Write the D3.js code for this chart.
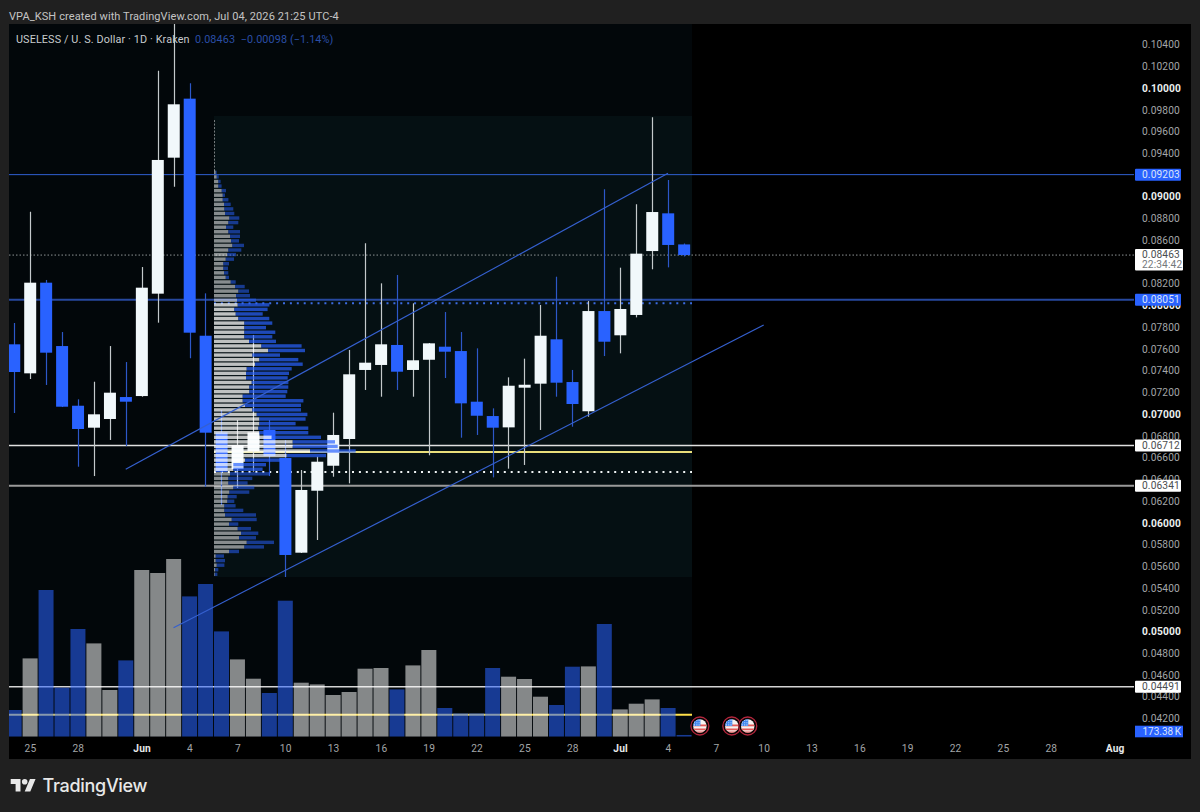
<!DOCTYPE html>
<html>
<head>
<meta charset="utf-8">
<title>USELESS / USD daily</title>
<script src="https://cdn.jsdelivr.net/npm/d3@7/dist/d3.min.js"></script>
<style>
  html, body { margin: 0; padding: 0; background: #202020; }
  svg { display: block; }
  text { font-family: Roboto, "Liberation Sans", sans-serif; }
</style>
</head>
<body>
<svg id="chart" width="1200" height="812"></svg>
<script>
// Daily sessions, 24 May to 5 Jul 2026
const sessionDates = d3.utcDay.range(Date.UTC(2026, 4, 24), Date.UTC(2026, 6, 6));

const opens = [.07642,.07375,.08209,.07626,.07077,.06875,.06955,.07157,.07166,.08108,.09359,.09902,.07721,.06832,.06495,.06660,.06854,.06596,.05725,.06295,.06525,.06771,.07406,.07452,.07636,.07406,.07500,.07620,.07580,.07114,.06982,.06878,.07243,.07280,.07688,.07295,.07026,.07948,.07725,.07912,.08500,.08847,.08561];
const highs = [.07838,.08862,.08234,.07755,.07136,.07298,.07626,.07479,.08353,.10159,.10620,.10043,.08111,.07038,.06946,.07728,.06946,.06762,.06486,.06608,.07013,.07590,.08571,.08203,.08280,.08019,.07654,.07939,.07755,.07605,.07053,.07338,.07510,.08004,.08264,.07406,.08040,.09068,.08347,.08930,.09730,.09154,.08570];
const lows = [.07010,.07323,.07268,.07065,.06516,.06430,.06762,.06706,.07160,.07841,.09092,.07513,.06332,.06164,.06320,.06470,.06430,.05501,.05722,.05842,.06424,.06363,.07222,.07160,.07222,.07160,.06621,.07332,.06783,.06808,.06418,.06498,.06532,.06854,.07160,.06884,.06976,.07534,.07559,.07890,.08332,.08350,.08450];
const closes = [.07387,.08209,.07565,.07068,.06863,.06998,.07197,.07114,.08163,.09338,.09850,.07749,.06829,.06470,.06716,.06832,.06614,.05704,.06302,.06562,.06808,.07366,.07473,.07642,.07390,.07495,.07651,.07574,.07099,.06985,.06875,.07261,.07270,.07721,.07289,.07093,.07948,.07666,.07967,.08476,.08859,.08556,.08463];
// Volume in millions of tokens
const volumes = [2.67,7.83,14.67,4.9,10.77,9.33,4.67,7.63,16.67,16.37,17.77,14.03,15.27,10.53,7.73,5.8,4.37,13.6,5.4,5.23,4.17,4.47,6.8,6.87,4.73,7.13,8.67,2.87,2.33,2.33,6.87,6,5.77,4,3.17,7,7.03,11.27,2.73,3.3,3.73,2.87,.17338];

// Fixed-range volume profile, rows listed from the top price to the bottom one
const profileTopPrice = .09224;
const profileBottomPrice = .05526;
const profileUp = [1.7,2.7,4.3,4.3,7.7,8.7,8.7,10,10.3,11,15.3,14.3,12,14.3,16,17,18.3,14.3,13.3,11.7,9.3,9.3,10,11.7,16.7,21,24.3,22,23,23.7,20.3,21.7,24.3,30.3,30.3,30.3,30.3,35,47.3,54,38.3,45.3,41,32.7,32,32,37.7,35.3,35.3,28.7,28.7,31,38.3,42.7,45.3,45.3,44.3,45.3,57.7,78.7,78.7,96,72.7,31,19.3,19.3,16,14.3,14.3,19.3,15.3,13.7,13.3,10.3,10.3,11,17.7,15,23.7,27,25,32.7,30.3,15,1.7,1.7,2.7,1,.7];
const profileDown = [1,2,2.3,3.3,4.3,2.3,5.7,6.7,9,9.3,10,10,7.3,11.7,10,8,11.7,13,8.7,8.3,5.7,4.7,4.3,3.3,5,9.7,10.7,14,19,31.7,33.3,27,31,28,21.7,31,28,27,40.3,37,27.7,39,47.7,45,43,41.7,36.7,39,38,43,60.7,56,48.7,50.7,46.3,36.3,50,49,49.3,42.3,45,45.7,39.3,35,32.7,29.3,40,24,19.3,21,20,9,7,11.3,19,31,25,9.3,13.3,17.3,17,27.3,19.7,10,8.3,9.3,7.7,3.3,2.7];
const profileHighPrice = .09705;
const valueAreaHigh = .08019;
const valueAreaLow = .06467;
const pointOfControl = .06651;
const volumePointOfControl = .04234;

// Axis ticks; 0.08400 is left out because the last-price tag covers it
const priceTicks = [.042,.044,.046,.048,.05,.052,.054,.056,.058,.06,.062,.064,.066,.068,.07,.072,.074,.076,.078,.08,.082,.086,.088,.09,.092,.094,.096,.098,.1,.102,.104];
const majorPrices = [.05,.06,.07,.08,.09,.1];
const dateTicks = [[4,25],[4,28],[5,1],[5,4],[5,7],[5,10],[5,13],[5,16],[5,19],[5,22],[5,25],[5,28],[6,1],[6,4],[6,7],[6,10],[6,13],[6,16],[6,19],[6,22],[6,25],[6,28],[7,1]].map(([m, d]) => new Date(Date.UTC(2026, m, d)));

// Drawn price levels and the rising channel
const blueLevels = [.09203, .08051];
const whiteLevels = [{price: .06712, color: "#e0e0e0", width: 1.5}, {price: .06341, color: "#9a9a9a", width: 2}, {price: .04491, color: "#d4d4d4", width: 1.5}];
const lastPrice = .08463;
const lastVolumeLabel = "173.38 K";
const countdownLabel = "22:34:42";
const channelUpper = [{date: new Date(Date.UTC(2026, 4, 31)), price: .06492}, {date: new Date(Date.UTC(2026, 6, 4)), price: .09215}];
const channelLower = [{date: new Date(Date.UTC(2026, 5, 3)), price: .05035}, {date: new Date(Date.UTC(2026, 6, 10)), price: .0782}];
const economicEvents = [new Date(Date.UTC(2026, 6, 6)), new Date(Date.UTC(2026, 6, 8)), new Date(Date.UTC(2026, 6, 9))];

const attributionText = "VPA_KSH created with TradingView.com, Jul 04, 2026 21:25 UTC-4";
const symbolText = "USELESS / U. S. Dollar · 1D · Kraken";
const quoteText = "0.08463  −0.00098 (−1.14%)";

// Colours and layout
const BLUE = "#2962ff", WHITE = "#f1f8fb";
const pane = {left: 9, right: 1191, top: 24, bottom: 759, plotRight: 1134, volumeBase: 736.7, dataRight: 692};

const x = d3.scaleUtc().domain([Date.UTC(2026, 4, 25), Date.UTC(2026, 7, 1)]).range([30, 1114.6]);
const y = d3.scaleLinear().domain([.1, .05]).range([88, 631.5]);
const vol = d3.scaleLinear().domain([0, 10]).range([pane.volumeBase, pane.volumeBase - 100]);
const rows = d3.scaleLinear().domain([0, profileUp.length - 1]).range([y(profileTopPrice), y(profileBottomPrice)]);
const profileWidth = d3.scaleLinear().domain([0, 142]).range([0, 142]);

const svg = d3.select("#chart");
svg.append("rect").attr("width", 1200).attr("height", 812).attr("fill", "#202020");

const defs = svg.append("defs");
defs.append("clipPath").attr("id", "plot-clip").append("rect")
  .attr("x", pane.left).attr("y", pane.top).attr("width", pane.right - pane.left).attr("height", pane.volumeBase - pane.top);

// Pane and session backgrounds
svg.append("rect").attr("x", pane.left).attr("y", pane.top).attr("width", pane.right - pane.left).attr("height", pane.bottom - pane.top).attr("fill", "#000");
svg.append("rect").attr("x", pane.left).attr("y", pane.top).attr("width", pane.dataRight - pane.left).attr("height", pane.volumeBase - pane.top).attr("fill", "#02070a");
const profileLeft = 214;
svg.append("rect").attr("x", profileLeft).attr("y", 116).attr("width", pane.dataRight - profileLeft).attr("height", 461).attr("fill", "#051013");

const plot = svg.append("g").attr("clip-path", "url(#plot-clip)");

function hLine(g, yPos, x1, x2, color, width, dash) {
  return g.append("line").attr("x1", x1).attr("x2", x2).attr("y1", yPos).attr("y2", yPos)
    .attr("stroke", color).attr("stroke-width", width).attr("stroke-dasharray", dash || null);
}

// Price levels sit behind everything else
hLine(plot, y(.09203), pane.left, pane.plotRight, "#2f5fd0", 1);
hLine(plot, y(.08051), pane.left, pane.plotRight, "#27489e", 2);
whiteLevels.forEach(l => hLine(plot, y(l.price), pane.left, pane.plotRight, l.color, l.width));
hLine(plot, y(lastPrice), pane.left, pane.plotRight, "#8f9496", 1, "1.5 2");
hLine(plot, y(pointOfControl), profileLeft, pane.dataRight, "#e9de7a", 2);
hLine(plot, y(volumePointOfControl), pane.left, pane.dataRight, "#ffe04a", 2);
hLine(plot, y(valueAreaHigh), profileLeft, pane.dataRight, "#3c6be0", 2, "2 4.9");
hLine(plot, y(valueAreaLow), profileLeft, pane.dataRight, "#f0f4f4", 2, "2 4.9");

// Candles
const candles = sessionDates.map((date, i) => ({date, open: opens[i], high: highs[i], low: lows[i], close: closes[i], volume: volumes[i]}));
const candleG = plot.append("g");
candleG.selectAll("line").data(candles).join("line")
  .attr("x1", d => Math.round(x(d.date)) + .5).attr("x2", d => Math.round(x(d.date)) + .5)
  .attr("y1", d => y(d.high)).attr("y2", d => y(d.low))
  .attr("stroke", d => d.close >= d.open ? "#c4c9cb" : "#2d58c8").attr("stroke-width", 1.2);
candleG.selectAll("rect").data(candles).join("rect")
  .attr("x", d => x(d.date) - 5.8).attr("width", 12)
  .attr("y", d => y(Math.max(d.open, d.close)))
  .attr("height", d => Math.max(1, Math.abs(y(d.open) - y(d.close))))
  .attr("fill", d => d.close >= d.open ? WHITE : BLUE);

// Volume profile, translucent over the candles and brighter inside the value area
const profile = profileUp.map((up, i) => ({row: i, up, down: profileDown[i]}));
const inValueArea = d => rows(d.row) >= y(valueAreaHigh) - 1 && rows(d.row) <= y(valueAreaLow) + 1;
const profileG = plot.append("g");
profileG.append("line").attr("x1", profileLeft + .5).attr("x2", profileLeft + .5)
  .attr("y1", y(profileHighPrice)).attr("y2", rows(0))
  .attr("stroke", "#777c7e").attr("stroke-width", 1).attr("stroke-dasharray", "2 1.5");
profileG.selectAll("rect.up").data(profile).join("rect").attr("class", "up")
  .attr("x", profileLeft).attr("y", d => rows(d.row) - 1.7).attr("height", 3.4)
  .attr("width", d => profileWidth(d.up))
  .attr("fill", "#fff").attr("fill-opacity", d => inValueArea(d) ? .74 : .52);
profileG.selectAll("rect.down").data(profile).join("rect").attr("class", "down")
  .attr("x", d => profileLeft + profileWidth(d.up)).attr("y", d => rows(d.row) - 1.7).attr("height", 3.4)
  .attr("width", d => profileWidth(d.down))
  .attr("fill", BLUE).attr("fill-opacity", d => inValueArea(d) ? .7 : .52);

// Volume histogram, also translucent so the levels behind it tint through
plot.append("g").selectAll("rect").data(candles).join("rect")
  .attr("x", d => x(d.date) - 7.4).attr("width", 15)
  .attr("y", d => vol(d.volume)).attr("height", d => vol(0) - vol(d.volume))
  .attr("fill", d => d.close >= d.open ? "#fff" : BLUE)
  .attr("fill-opacity", d => d.close >= d.open ? .52 : .56);

// Rising channel
const channelLine = d3.line().x(d => x(d.date)).y(d => y(d.price));
[channelUpper, channelLower].forEach(points => {
  plot.append("path").attr("d", channelLine(points)).attr("fill", "none").attr("stroke", "#3560cf").attr("stroke-width", 1.2);
});

// Price scale
const priceAxis = svg.append("g").attr("transform", "translate(1142,0)")
  .call(d3.axisRight(y).tickValues(priceTicks).tickSize(0).tickPadding(0).tickFormat(d3.format(".5f")));
priceAxis.select(".domain").remove();
priceAxis.selectAll("text")
  .attr("font-size", 10.2)
  .attr("letter-spacing", .12)
  .attr("fill", d => majorPrices.some(m => Math.abs(m - d) < 1e-9) ? "#eceff0" : "#a3a6a8")
  .attr("font-weight", d => majorPrices.some(m => Math.abs(m - d) < 1e-9) ? 700 : 400);

// Boxed labels on the price scale
function priceTag(value, fill, color) {
  svg.append("rect").attr("x", 1135).attr("y", y(value) - 6).attr("width", 46).attr("height", 12).attr("rx", 1).attr("fill", fill);
  svg.append("text").attr("x", 1142).attr("y", y(value) + 3.6).attr("font-size", 10.2).attr("letter-spacing", .12).attr("fill", color).text(d3.format(".5f")(value));
}
blueLevels.forEach(v => priceTag(v, BLUE, "#dbe4f8"));
whiteLevels.forEach(l => priceTag(l.price, "#ffffff", "#4a4d50"));

svg.append("rect").attr("x", 1135).attr("y", y(lastPrice) - 6).attr("width", 48).attr("height", 21.5).attr("rx", 1).attr("fill", "#fff");
svg.append("text").attr("x", 1142).attr("y", y(lastPrice) + 3.4).attr("font-size", 10.2).attr("letter-spacing", .12).attr("fill", "#4a4d50").text(d3.format(".5f")(lastPrice));
svg.append("text").attr("x", 1142).attr("y", y(lastPrice) + 13).attr("font-size", 10.2).attr("letter-spacing", .12).attr("fill", "#74787b").text(countdownLabel);

svg.append("rect").attr("x", 1135).attr("y", 725.7).attr("width", 48).attr("height", 11.6).attr("fill", BLUE);
svg.append("text").attr("x", 1142.5).attr("y", 735).attr("font-size", 10).attr("word-spacing", -1).attr("fill", "#dbe4f8").text(lastVolumeLabel);

// Time scale
const timeAxis = svg.append("g").attr("transform", `translate(0,${pane.volumeBase})`)
  .call(d3.axisBottom(x).tickValues(dateTicks).tickSize(0).tickPadding(8).tickFormat(d => {
    if (d.getUTCDate() === 1) return d3.utcFormat("%b")(d);
    return d.getUTCDate();
  }));
timeAxis.select(".domain").remove();
timeAxis.selectAll("text")
  .attr("font-size", 10.2).attr("letter-spacing", .2)
  .attr("fill", d => d.getUTCDate() === 1 ? "#e6e8e9" : "#a3a6a8")
  .attr("font-weight", d => d.getUTCDate() === 1 ? 700 : 400);

// Economic calendar markers
const flagG = svg.append("g");
economicEvents.forEach((date, i) => {
  const g = flagG.append("g").attr("transform", `translate(${x(date)},726)`);
  defs.append("clipPath").attr("id", `flag-${i}`).append("circle").attr("r", 6.8);
  g.append("circle").attr("r", 9).attr("fill", "#0a0505").attr("stroke", "#b3263c").attr("stroke-width", 1.3);
  const inner = g.append("g").attr("clip-path", `url(#flag-${i})`);
  inner.append("rect").attr("x", -7).attr("y", -7).attr("width", 14).attr("height", 14).attr("fill", "#f6f3f1");
  [-1.5, 2.5, 5.5].forEach(s => inner.append("rect").attr("x", -7).attr("y", s).attr("width", 14).attr("height", 1.8).attr("fill", "#e65a58"));
  inner.append("rect").attr("x", -7).attr("y", -7).attr("width", 7.5).attr("height", 7).attr("fill", "#3f86ee");
  [-5.5, -3.2, -1.1].forEach(cy => [-5.4, -3, -.8].forEach(cx => inner.append("circle").attr("cx", cx).attr("cy", cy).attr("r", .55).attr("fill", "#dfeaff")));
});

// Header, legend and footer wordmark
svg.append("text").attr("x", 9).attr("y", 19.7).attr("font-size", 11).attr("letter-spacing", .1).attr("fill", "#c4c4c4").text(attributionText);
svg.append("text").attr("x", 16).attr("y", 43).attr("font-size", 10.8).attr("letter-spacing", .12).attr("fill", "#c8ccce").text(symbolText);
svg.append("text").attr("x", 195).attr("y", 43).attr("font-size", 10.8).attr("letter-spacing", .12).attr("fill", "#2a4ea6").style("white-space", "pre").text(quoteText);

const logo = svg.append("g").attr("transform", "translate(10.7,776.2) scale(.7)").attr("fill", "#e8e8e8");
logo.append("path").attr("d", "M14 22H7V11H0V4h14v18zM28 22h-8l7.5-18h8L28 22z");
logo.append("circle").attr("cx", 20).attr("cy", 8).attr("r", 4);
svg.append("text").attr("x", 42.5).attr("y", 792.3).style("font-family", "Inter, Roboto, sans-serif").attr("font-size", 18).attr("font-weight", 500).attr("letter-spacing", -.3).attr("fill", "#e8e8e8").text("TradingView");
</script>
</body>
</html>
